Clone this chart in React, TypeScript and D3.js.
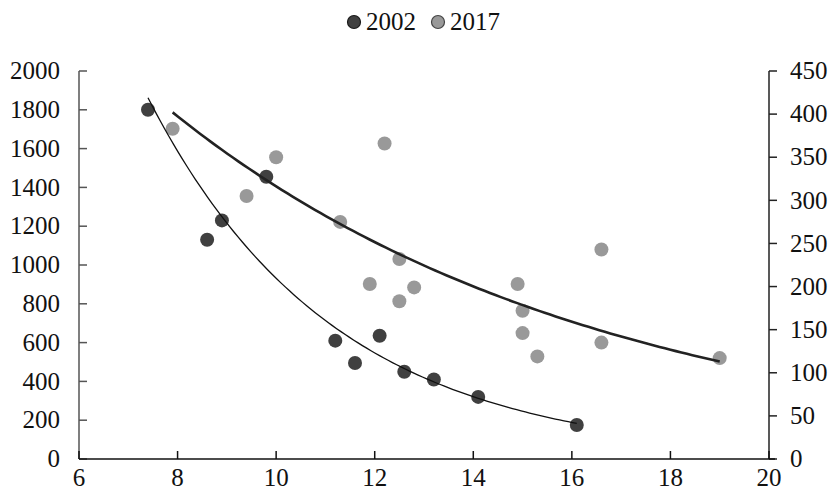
import React from "react";
import * as d3 from "d3";

const x2002 = [7.4, 8.6, 8.9, 9.8, 11.2, 11.6, 12.1, 12.6, 13.2, 14.1, 16.1];
const y2002 = [1800, 1130, 1230, 1455, 610, 495, 635, 450, 410, 320, 175];
const x2017 = [7.9, 9.4, 10.0, 11.3, 12.2, 11.9, 12.5, 12.5, 12.8, 14.9, 15.0, 15.0, 15.3, 16.6, 16.6, 19.0];
const y2017 = [383, 305, 350, 275, 366, 203, 232, 183, 199, 203, 172, 146, 119, 243, 135, 117];
// exponential trendlines y = a * exp(k x)
const trend2002 = { a: 13360, k: -0.2663, from: 7.4, to: 16.1 };
const trend2017 = { a: 991.7, k: -0.1143, from: 7.9, to: 19.0 };
const xTicks = [6, 8, 10, 12, 14, 16, 18, 20];
const yLeftTicks = [0, 200, 400, 600, 800, 1000, 1200, 1400, 1600, 1800, 2000];
const yRightTicks = [0, 50, 100, 150, 200, 250, 300, 350, 400, 450];
const seriesNames = ["2002", "2017"];

const W = 833, H = 497;
const FONT = "Liberation Serif";

function T(props: { x: number; y: number; anchor?: string; dy?: string; children: React.ReactNode }) {
  return (
    <text x={props.x} y={props.y} dy={props.dy} textAnchor={props.anchor || "start"}
      fontFamily={FONT} fontSize={25} fill="#111" style={{ fontFamily: FONT, fontSize: "25px" }}>
      {props.children}
    </text>
  );
}

export default function App() {
  const x = d3.scaleLinear().domain([6, 20]).range([79, 769]);
  const yL = d3.scaleLinear().domain([0, 2000]).range([459, 71]);
  const yR = d3.scaleLinear().domain([0, 450]).range([459, 71]);

  const trendPath = (t: typeof trend2002, ys: d3.ScaleLinear<number, number>) => {
    const pts = d3.range(0, 101).map(i => {
      const xv = t.from + (t.to - t.from) * i / 100;
      return [xv, t.a * Math.exp(t.k * xv)] as [number, number];
    });
    return d3.line<[number, number]>().x(d => x(d[0])).y(d => ys(d[1]))(pts) || "";
  };

  return (
    <div style={{ position: "absolute", left: 0, top: 0, fontFamily: FONT }}>
      <svg width={W} height={H}>
        {/* legend */}
        <circle cx={354} cy={22} r={6.5} fill="#404040" stroke="#1a1a1a" strokeWidth={1.2} />
        <T x={366} y={30}>{seriesNames[0]}</T>
        <circle cx={438} cy={22} r={6.5} fill="#999" stroke="#444" strokeWidth={1.2} />
        <T x={450} y={30}>{seriesNames[1]}</T>
        {/* left axis */}
        <line x1={79} x2={79} y1={71} y2={459} stroke="#555" strokeWidth={1.5} />
        {yLeftTicks.map(t => (
          <g key={"l" + t}>
            <line x1={79} x2={87} y1={yL(t)} y2={yL(t)} stroke="#555" strokeWidth={1.5} />
            <T x={60} y={yL(t)} dy="0.33em" anchor="end">{t}</T>
          </g>
        ))}
        {/* right axis */}
        <line x1={769} x2={769} y1={71} y2={459} stroke="#222" strokeWidth={1.5} />
        {yRightTicks.map(t => (
          <g key={"r" + t}>
            <line x1={769} x2={777} y1={yR(t)} y2={yR(t)} stroke="#222" strokeWidth={1.5} />
            <T x={790} y={yR(t)} dy="0.33em">{t}</T>
          </g>
        ))}
        {/* bottom axis */}
        <line x1={79} x2={775} y1={459} y2={459} stroke="#111" strokeWidth={1.5} />
        {xTicks.map(t => (
          <g key={"x" + t}>
            <line x1={x(t)} x2={x(t)} y1={451} y2={459} stroke="#111" strokeWidth={1.5} />
            <T x={x(t)} y={486} anchor="middle">{t}</T>
          </g>
        ))}
        {/* points */}
        {x2017.map((xv, i) => (
          <circle key={"b" + i} cx={x(xv)} cy={yR(y2017[i])} r={7} fill="#999" />
        ))}
        {x2002.map((xv, i) => (
          <circle key={"a" + i} cx={x(xv)} cy={yL(y2002[i])} r={7} fill="#404040" />
        ))}
        {/* trendlines */}
        <path d={trendPath(trend2002, yL)} fill="none" stroke="#111" strokeWidth={1.3} />
        <path d={trendPath(trend2017, yR)} fill="none" stroke="#222" strokeWidth={2.6} />
      </svg>
    </div>
  );
}
